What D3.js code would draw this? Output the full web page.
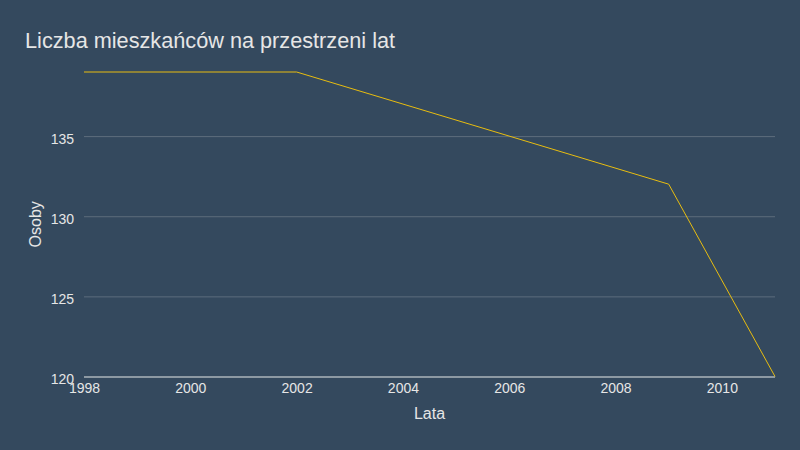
<!DOCTYPE html>
<html><head><meta charset="utf-8">
<script src="https://cdn.jsdelivr.net/npm/d3@7"></script>
<style>body{margin:0;background:#34495e;}svg{display:block;font-family:"Liberation Sans",Arial,sans-serif;}</style>
</head><body>
<svg id="c" width="800" height="450"></svg>
<script>
const years = [1998, 2002, 2009, 2011];
const residents = [139, 139, 132, 120];
const yTicks = [120, 125, 130, 135];
const xTicks = [1998, 2000, 2002, 2004, 2006, 2008, 2010];
const title = "Liczba mieszkańców na przestrzeni lat";
const xTitle = "Lata";
const yTitle = "Osoby";

const svg = d3.select("#c");
const W = 800, H = 450;
const m = {left: 84, right: 25, top: 72, bottom: 73.5};
svg.append("rect").attr("width", W).attr("height", H).attr("fill", "#34495e");

const x = d3.scaleLinear().domain([1998, 2011]).range([m.left, W - m.right]);
const y = d3.scaleLinear().domain([120, 139]).range([H - m.bottom, m.top]);
const txt = "#e6e6e6";

// grid
const gy = svg.append("g").attr("transform", `translate(${m.left},0)`)
  .call(d3.axisLeft(y).tickValues(yTicks).tickSize(-(W - m.left - m.right)).tickPadding(10));
gy.select(".domain").remove();
gy.selectAll(".tick line").attr("stroke", d => d === 120 ? "#8d99a3" : "#5d6d7c")
  .attr("stroke-width", d => d === 120 ? 2 : 1);
gy.selectAll(".tick text").attr("fill", txt).attr("font-size", 14)
  .attr("font-family", "Liberation Sans, Arial, sans-serif").attr("dy", "0.5em");

const gx = svg.append("g").attr("transform", `translate(0,${H - m.bottom})`)
  .call(d3.axisBottom(x).tickValues(xTicks).tickFormat(d3.format("d")).tickSize(0).tickPadding(7));
gx.select(".domain").remove();
gx.selectAll(".tick text").attr("fill", txt).attr("font-size", 14)
  .attr("font-family", "Liberation Sans, Arial, sans-serif");

// line
const data = years.map((yr, i) => ({yr, v: residents[i]}));
svg.append("path").datum(data)
  .attr("fill", "none").attr("stroke", "#e8bd10").attr("stroke-width", 1)
  .attr("d", d3.line().x(d => x(d.yr)).y(d => y(d.v)));

// titles
svg.append("text").attr("x", 25).attr("y", 48).attr("fill", txt)
  .attr("font-size", 21.7).text(title);
svg.append("text").attr("x", (m.left + W - m.right) / 2).attr("y", 419)
  .attr("text-anchor", "middle").attr("fill", txt).attr("font-size", 16).text(xTitle);
svg.append("text").attr("transform", `translate(41,${(m.top + H - m.bottom) / 2}) rotate(-90)`)
  .attr("text-anchor", "middle").attr("fill", txt).attr("font-size", 16).text(yTitle);
</script>
</body></html>
